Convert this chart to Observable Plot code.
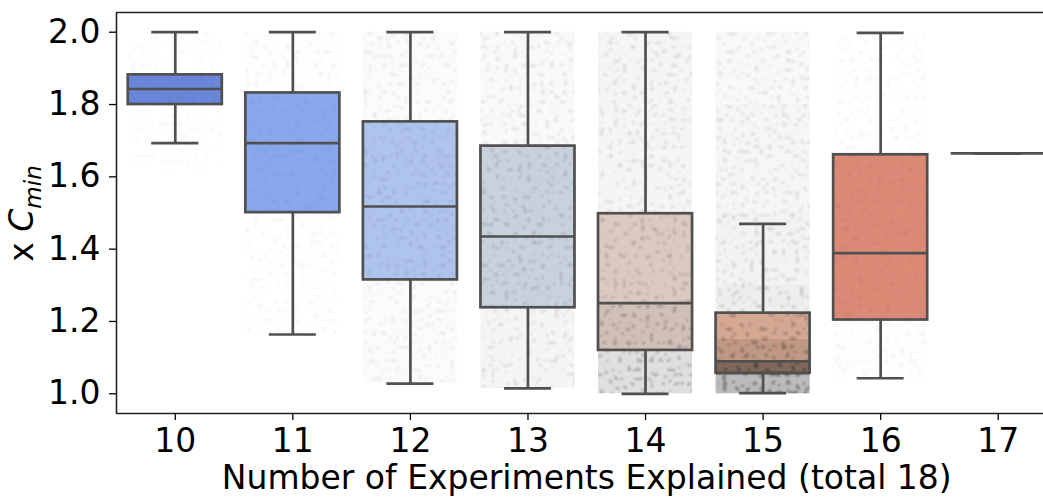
<!DOCTYPE html>
<html><head><meta charset="utf-8">
<script src="https://cdn.jsdelivr.net/npm/d3@7"></script>
<script src="https://cdn.jsdelivr.net/npm/@observablehq/plot@0.6"></script>
<style>body{margin:0;background:#fff;overflow:hidden}</style>
</head><body><div id="chart"></div>
<script>
// ---- data ----
const categories  = [10, 11, 12, 13, 14, 15, 16, 17];
const whiskerLow  = [1.693, 1.164, 1.028, 1.015, 1.000, 1.002, 1.043, 1.665];
const q1          = [1.800, 1.501, 1.315, 1.238, 1.120, 1.057, 1.204, 1.665];
const medians     = [1.843, 1.693, 1.518, 1.435, 1.251, 1.090, 1.389, 1.665];
const q3          = [1.882, 1.832, 1.752, 1.685, 1.498, 1.223, 1.661, 1.665];
const whiskerHigh = [2.000, 2.000, 2.000, 2.000, 2.000, 1.470, 1.998, 1.665];
const boxColors   = ["#6a85d9", "#8aa8ee", "#b3c9f4", "#d3dcea", "#ecd9cf", "#f5c0a6", "#de8c77", "#d0604e"];
const yTicks = [1.0, 1.2, 1.4, 1.6, 1.8, 2.0];
const xTitle = "Number of Experiments Explained (total 18)";

// jittered strip-plot clouds: [from, to, approx. points per 0.1 of y]
const cloud10 = [[1.62, 1.69, 3], [1.69, 1.80, 6], [1.80, 1.88, 20], [1.88, 2.00, 6]];
const cloud11 = [[1.164, 1.30, 20], [1.30, 1.50, 25], [1.50, 1.83, 32], [1.83, 2.00, 30]];
const cloud12 = [[1.028, 1.315, 70], [1.315, 1.752, 120], [1.752, 2.00, 80]];
const cloud13 = [[1.015, 1.238, 160], [1.238, 1.685, 210], [1.685, 2.00, 110]];
const cloud14 = [[1.000, 1.120, 480], [1.120, 1.251, 420], [1.251, 1.498, 260], [1.498, 2.00, 150]];
const cloud15 = [[1.000, 1.050, 1100], [1.050, 1.090, 2100], [1.090, 1.150, 850], [1.150, 1.223, 500],
                 [1.223, 1.300, 260], [1.300, 1.500, 180], [1.500, 1.800, 140], [1.800, 2.00, 120]];
const cloud16 = [[1.043, 1.204, 35], [1.204, 1.661, 50], [1.661, 1.998, 25]];
const clouds = [cloud10, cloud11, cloud12, cloud13, cloud14, cloud15, cloud16];

// ---- tables built from the arrays ----
const boxes = categories.map((c, i) => ({
  cat: c, lo: whiskerLow[i], q1: q1[i], med: medians[i], q3: q3[i], hi: whiskerHigh[i], color: boxColors[i]
}));
const dotK = 0.1 * 15 / 3400 * 0.85; // dot alpha * dot area / bin area
const cover = 0.2;                    // share of area covered by the speckle texture
const cloudBins = clouds.flatMap((bins, i) => bins.map(([a, b, n]) => {
  const D = 1 - Math.exp(-n * dotK);             // mean darkness
  const op = Math.min(0.6, 0.03 + 1.4 * D);       // speckle opacity
  const haze = Math.max(0, (D - cover * op) / (1 - cover));
  return {cat: categories[i], a, b, n, op, haze};
}));

const lineColor = "#505050";
const lw = 2.7;
const FS = 33;

const plot = Plot.plot({
  width: 1043, height: 497,
  marginLeft: 116, marginRight: 0, marginTop: 12, marginBottom: 84,
  style: {fontFamily: "DejaVu Sans", background: "#fff", color: "#000", overflow: "hidden"},
  x: {type: "linear", domain: [9.5, 17.5], range: [116, 1056.5]},
  y: {domain: [0.9455, 2.0545]},
  marks: [
    // box fills
    Plot.rect(boxes, {x1: d => d.cat - 0.4, x2: d => d.cat + 0.4, y1: "q1", y2: "q3", fill: "color"}),
    // point clouds: even haze + speckle texture
    Plot.rect(cloudBins, {x1: d => d.cat - 0.4, x2: d => d.cat + 0.4, y1: "a", y2: "b",
      fill: "#1a1a1a", fillOpacity: "haze"}),
    Plot.rect(cloudBins, {x1: d => d.cat - 0.4, x2: d => d.cat + 0.4, y1: "a", y2: "b",
      fill: "#1a1a1a", fillOpacity: "op", ariaDescription: "cloud-speckle"}),
    // whiskers
    Plot.ruleX(boxes, {x: "cat", y1: "q3", y2: "hi", stroke: lineColor, strokeWidth: lw}),
    Plot.ruleX(boxes, {x: "cat", y1: "lo", y2: "q1", stroke: lineColor, strokeWidth: lw}),
    Plot.ruleY(boxes, {y: "hi", x1: d => d.cat - 0.2, x2: d => d.cat + 0.2, stroke: lineColor, strokeWidth: lw}),
    Plot.ruleY(boxes, {y: "lo", x1: d => d.cat - 0.2, x2: d => d.cat + 0.2, stroke: lineColor, strokeWidth: lw}),
    // box outlines and medians
    Plot.rect(boxes, {x1: d => d.cat - 0.4, x2: d => d.cat + 0.4, y1: "q1", y2: "q3", fill: "none", stroke: lineColor, strokeWidth: lw}),
    Plot.ruleY(boxes, {y: "med", x1: d => d.cat - 0.4, x2: d => d.cat + 0.4, stroke: lineColor, strokeWidth: lw}),
    // spines
    Plot.ruleX([9.5], {stroke: "#222", strokeWidth: 1.6}),
    Plot.ruleY([0.9455], {stroke: "#222", strokeWidth: 1.6}),
    Plot.ruleY([2.0545], {stroke: "#222", strokeWidth: 1.6}),
    // axes
    Plot.axisX({ticks: categories, tickFormat: d => String(d), tickSize: 7, tickPadding: 8,
      fontSize: FS, label: null, strokeWidth: 1.3}),
    Plot.axisY({ticks: yTicks, tickFormat: d3.format(".1f"), tickSize: 7, tickPadding: 9,
      fontSize: FS, label: null, strokeWidth: 1.3}),
    Plot.text([xTitle], {x: () => 13.5, text: d => d, frameAnchor: "bottom", dy: 75, fontSize: FS, fill: "#000"})
  ]
});

const svg = d3.select(plot);
// speckle filter (texture style for the jittered dots)
const defs = svg.insert("defs", ":first-child");
const f = defs.append("filter").attr("id", "speckle")
  .attr("filterUnits", "userSpaceOnUse").attr("x", 0).attr("y", 0).attr("width", 1043).attr("height", 497);
f.append("feTurbulence").attr("type", "fractalNoise").attr("baseFrequency", 0.22)
  .attr("numOctaves", 1).attr("seed", 11).attr("result", "noise");
f.append("feColorMatrix").attr("in", "noise").attr("type", "matrix")
  .attr("values", "0 0 0 0 0  0 0 0 0 0  0 0 0 0 0  14 0 0 0 -8.5").attr("result", "mask0");
f.append("feGaussianBlur").attr("in", "mask0").attr("stdDeviation", 0.8).attr("result", "mask");
f.append("feComposite").attr("in", "SourceGraphic").attr("in2", "mask").attr("operator", "in");
svg.selectAll('g[aria-description="cloud-speckle"]').attr("filter", "url(#speckle)");

// y-axis title with italic subscript
const t = svg.append("text")
  .attr("transform", "translate(33,213.5) rotate(-90)")
  .attr("text-anchor", "middle")
  .attr("font-family", "DejaVu Sans")
  .attr("font-size", FS)
  .attr("fill", "#000");
t.append("tspan").text("x ");
t.append("tspan").attr("font-style", "italic").text("C");
t.append("tspan").attr("font-style", "italic").attr("font-size", 23).attr("dy", 8).text("min");

document.getElementById("chart").appendChild(plot);
</script>
</body></html>
